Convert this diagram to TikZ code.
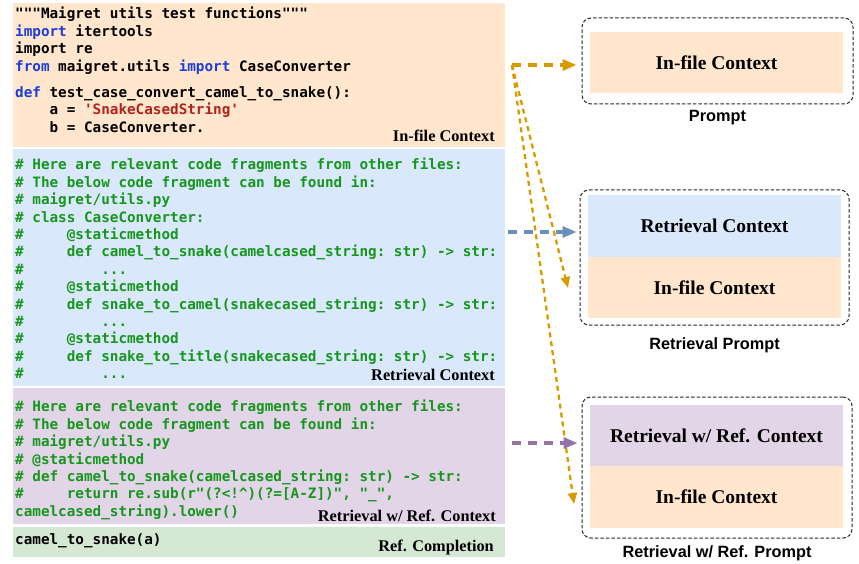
\documentclass[tikz,border=0pt]{standalone}
\usepackage{fontspec}
\setmainfont{Liberation Serif}
\setsansfont{Liberation Sans}
\setmonofont{DejaVu Sans Mono}
\usetikzlibrary{positioning,arrows.meta}

\definecolor{infile}{HTML}{FFE6CC}
\definecolor{retr}{HTML}{DAE8FC}
\definecolor{wref}{HTML}{E1D5E7}
\definecolor{compl}{HTML}{D5E8D4}
\definecolor{kwblue}{HTML}{1A3CD8}
\definecolor{strred}{HTML}{B2221E}
\definecolor{cmtgreen}{HTML}{16961C}
\definecolor{arrorange}{HTML}{D79B00}
\definecolor{arrblue}{HTML}{6C8EBF}
\definecolor{arrpurple}{HTML}{9673A6}

\newcommand\kw[1]{\textcolor{kwblue}{#1}}
\newcommand\strlit[1]{\textcolor{strred}{#1}}
\newcommand\tab{\hphantom{xxxx}}

\begin{document}
\begin{tikzpicture}[x=1pt,y=-1pt,
    panel/.style={anchor=north west, inner sep=0, minimum width=492pt},
    code/.style={anchor=north west, align=left, inner sep=0,
        font=\ttfamily\bfseries\fontsize{14.3}{17.4}\selectfont},
    tag/.style={anchor=base east, inner sep=0, font=\bfseries\fontsize{16.3}{19}\selectfont},
    promptbox/.style={draw=black!85, line width=1pt, dash pattern=on 3.5pt off 2pt,
        rounded corners=9pt, inner sep=0},
    ctx/.style={inner sep=0, minimum width=253pt, font=\bfseries\fontsize{19.5}{23}\selectfont},
    promptcap/.style={inner sep=0, font=\sffamily\bfseries\fontsize{16.3}{19}\selectfont},
    thick arr/.style={line width=3.2pt, dash pattern=on 9pt off 7pt,
        -{Triangle[length=14pt,width=11pt]}},
    thin arr/.style={arrorange, line width=2.3pt, dash pattern=on 5pt off 4pt,
        -{Triangle[length=11pt,width=9pt]}}]
    \useasboundingbox (0,0) rectangle (859,564);

    % code panels
    \node[panel, fill=infile, minimum height=144pt] (infilebox) at (13,3) {};
    \node[panel, fill=retr, minimum height=237pt] (retrbox) at (13,149) {};
    \node[panel, fill=wref, minimum height=136pt] (wrefbox) at (13,388) {};
    \node[panel, fill=compl, minimum height=30pt] (complbox) at (13,527) {};

    \node[code] (infilecode) at (15,7) {"""Maigret utils test functions"""\\
        \kw{import} itertools\\
        import re\\
        \kw{from} maigret.utils \kw{import} CaseConverter\\[9pt]
        \kw{def} test\_case\_convert\_camel\_to\_snake():\\
        \tab{}a = \strlit{\textquotesingle SnakeCasedString\textquotesingle}\\
        \tab{}b = CaseConverter.};
    \node[code, text=cmtgreen] (retrcode) at (15,158) {\# Here are relevant code fragments from other files:\\
        \# The below code fragment can be found in:\\
        \# maigret/utils.py\\
        \# class CaseConverter:\\
        \# \tab{}@staticmethod\\
        \# \tab{}def camel\_to\_snake(camelcased\_string: str) -> str:\\
        \# \tab\tab{}...\\
        \# \tab{}@staticmethod\\
        \# \tab{}def snake\_to\_camel(snakecased\_string: str) -> str:\\
        \# \tab\tab{}...\\
        \# \tab{}@staticmethod\\
        \# \tab{}def snake\_to\_title(snakecased\_string: str) -> str:\\
        \# \tab\tab{}...};
    \node[code, text=cmtgreen] (wrefcode) at (15,400) {\# Here are relevant code fragments from other files:\\
        \# The below code fragment can be found in:\\
        \# maigret/utils.py\\
        \# @staticmethod\\
        \# def camel\_to\_snake(camelcased\_string: str) -> str:\\
        \# \tab{}return re.sub(r"(?<!\textasciicircum)(?=[A-Z])", "\_",\\
        camelcased\_string).lower()};
    \node[code] (complcode) at (15,533.5) {camel\_to\_snake(a)};

    \node[tag] (infiletag) at (495,141.5) {In-file Context};
    \node[tag] (retrtag) at (495,380) {Retrieval Context};
    \node[tag] (wreftag) at (496,521) {Retrieval w/ Ref. Context};
    \node[tag] (compltag) at (494,551) {Ref. Completion};

    % prompts
    \node[promptbox, minimum width=271pt, minimum height=86pt] (pbox) at (717.5,61) {};
    \node[ctx, fill=infile, minimum height=61pt] (pinfile) at (716.5,62.5) {In-file Context};
    \node[promptcap, below=6pt of pbox] (pcap) {Prompt};

    \node[promptbox, minimum width=269pt, minimum height=135pt] (rbox) at (714.5,257.5) {};
    \node[ctx, fill=retr, minimum height=62pt] (rretr) at (714.5,226) {Retrieval Context};
    \node[ctx, fill=infile, minimum height=61pt] (rinfile) at (714.5,287.5) {In-file Context};
    \node[promptcap, below=12pt of rbox] (rcap) {Retrieval Prompt};

    \node[promptbox, minimum width=270pt, minimum height=141pt] (wbox) at (717,467.5) {};
    \node[ctx, fill=wref, minimum height=61pt] (wwref) at (716.5,435.5) {Retrieval w/ Ref. Context};
    \node[ctx, fill=infile, minimum height=62pt] (winfile) at (716.5,497) {In-file Context};
    \node[promptcap, below=7pt of wbox] (wcap) {Retrieval w/ Ref. Prompt};

    % arrows
    \coordinate (infsrc) at (512,65);
    \coordinate (retsrc) at (508,232);
    \coordinate (refsrc) at (512,443);
    \coordinate (rtip) at (568,288);
    \coordinate (wtip) at (574,504);
    \draw[thick arr, arrorange, shorten >=5pt] (infsrc) -- (infsrc -| pbox.west);
    \draw[thin arr] (infsrc) -- (rtip);
    \draw[thin arr] (infsrc) -- (wtip);
    \draw[thick arr, arrblue, shorten >=3pt] (retsrc) -- (retsrc -| rbox.west);
    \draw[thick arr, arrpurple, shorten >=4pt] (refsrc) -- (refsrc -| wbox.west);
\end{tikzpicture}
\end{document}
